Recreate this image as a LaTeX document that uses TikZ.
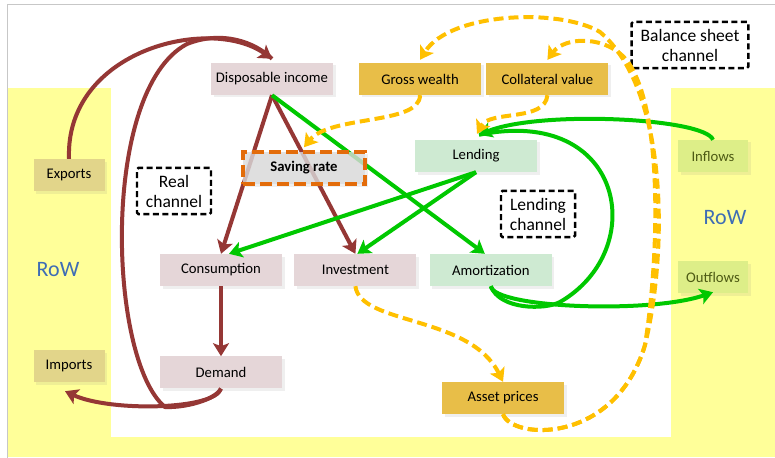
\documentclass[tikz,border=0pt]{standalone}
\usepackage{fontspec}
\setmainfont{Carlito}
\usetikzlibrary{arrows.meta,positioning,shadows}
\definecolor{ecoreal}{HTML}{953735}
\definecolor{ecolend}{HTML}{00C800}
\definecolor{ecobs}{HTML}{FFC000}
\definecolor{ecosave}{HTML}{E36C0A}
\definecolor{ecopink}{HTML}{E5D6D8}
\definecolor{ecogold}{HTML}{E8BE48}
\definecolor{ecomint}{HTML}{CEEAD2}
\definecolor{ecokhaki}{HTML}{E2D58A}
\definecolor{ecolime}{HTML}{DDEE88}
\definecolor{ecoolive}{HTML}{4D5A14}
\definecolor{ecoyellow}{HTML}{FFFF99}
\definecolor{ecoblue}{HTML}{3E6DB5}
\pgfdeclarelayer{front}
\pgfsetlayers{main,front}
\tikzset{
  nbox/.style={minimum width=122pt,minimum height=32pt,inner sep=2pt,
               font=\fontsize{14.7}{17}\selectfont,
               drop shadow={shadow xshift=2.5pt,shadow yshift=-2.5pt,opacity=0.12}},
  incbox/.style={nbox,fill=ecopink},
  wealthbox/.style={nbox,fill=ecogold},
  lendbox/.style={nbox,fill=ecomint},
  tradebox/.style={nbox,minimum width=71pt,fill=ecokhaki},
  flowbox/.style={nbox,minimum width=70pt,fill=ecolime,text=ecoolive},
  savebox/.style={nbox,fill=black!14,fill opacity=0.8,text opacity=1,draw=ecosave,draw opacity=1,
                  line width=3.5pt,dash pattern=on 12pt off 5pt,
                  font=\fontsize{14.7}{17}\selectfont\bfseries},
  chanbox/.style={draw,line width=2.4pt,dash pattern=on 6pt off 3.5pt,rounded corners=1.5pt,
                  fill=white,align=center,inner xsep=9pt,inner ysep=7pt,
                  font=\fontsize{17.5}{20}\selectfont},
  rowlabel/.style={text=ecoblue,font=\fontsize{22}{24}\selectfont},
  realarr/.style={-{Stealth[length=13pt,width=16pt,inset=3pt]},draw=ecoreal,line width=4pt},
  lendarr/.style={-{Stealth[length=13pt,width=16pt,inset=3pt]},draw=ecolend,line width=4pt},
  bsarr/.style={-{Stealth[length=13pt,width=16pt,inset=3pt]},draw=ecobs,line width=4pt,
                dash pattern=on 10pt off 5pt},
}
\begin{document}
\begin{tikzpicture}[x=1pt,y=-1pt]
\useasboundingbox (0,0) rectangle (775,457);
% --- background: rest of world strips ---
\fill[white] (0,0) rectangle (775,457);
\fill[ecoyellow] (7,88) rectangle (775,457);
\fill[white] (111,88) rectangle (671,437);
\draw[black!22,line width=1pt] (7,462) -- (7,5) -- (780,5);
% --- top row ---
\node[incbox] (dispinc) at (272,79) {Disposable income};
\node[wealthbox] (grosswealth) at (420,79) {Gross wealth};
\node[wealthbox,right=5pt of grosswealth] (collateral) {Collateral value};
\begin{pgfonlayer}{front}
\node[savebox] (saving) at (304,168) {Saving rate};
\end{pgfonlayer}
\node[lendbox] (lending) at (476,156) {Lending};
% --- middle row ---
\node[incbox] (consumption) at (221,270) {Consumption};
\node[incbox,right=12pt of consumption] (investment) {Investment};
\node[lendbox,right=13pt of investment] (amort) {Amortization};
\node[incbox,below=70pt of consumption] (demand) {Demand};
\node[wealthbox] (assetprices) at (503,398) {Asset prices};
% --- rest of world ---
\node[tradebox] (exports) at (69,175) {Exports};
\node[tradebox] (imports) at (69,366) {Imports};
\node[flowbox] (inflows) at (713,156) {Inflows};
\node[flowbox] (outflows) at (713,277) {Outflows};
\node[rowlabel] (rowleft) at (58,270) {RoW};
\node[rowlabel] (rowright) at (725,218) {RoW};
% --- channel labels ---
\node[chanbox] (realch) at (174,191) {Real\\channel};
\node[chanbox] (lendch) at (538,214) {Lending\\channel};
\node[chanbox] (balch) at (690,45) {Balance sheet\\channel};
% real channel
\draw[realarr] (exports.north) .. controls (65,50) and (210,15) .. ([yshift=4pt]dispinc.north);
\draw[draw=ecoreal,line width=4pt] (demand.south) .. controls (215,400) and (185,408) .. (165,407)
  .. controls (108,360) and (100,90) .. (187,44) .. controls (222,30) and (255,42) .. ([yshift=4pt]dispinc.north);
\draw[realarr] (demand.south) .. controls (215,410) and (110,412) .. ([xshift=-4pt,yshift=-9pt]imports.south);
\draw[realarr] (dispinc.south) -- (consumption.north);
\draw[realarr] (dispinc.south) -- (investment.north);
\draw[realarr] (consumption.south) -- (demand.north);
% lending channel
\draw[lendarr] (dispinc.south) -- ([xshift=-6pt]amort.north);
\draw[lendarr] (lending.south) -- ([xshift=8pt]consumption.north);
\draw[lendarr] (lending.south) -- ([xshift=2pt]investment.north);
\draw[lendarr] (inflows.north) .. controls (705,118) and (540,110) .. ([xshift=3pt,yshift=5pt]lending.north);
\draw[lendarr] (amort.south) .. controls (494,308) and (650,314) .. ([yshift=1pt]outflows.south);
\draw[draw=ecolend,line width=4pt] (amort.south) .. controls (500,310) and (545,310) .. (560,302)
  .. controls (650,250) and (625,105) .. ([xshift=3pt,yshift=5pt]lending.north);
% balance sheet channel
\draw[bsarr] (grosswealth.south) .. controls (420,125) and (330,115) .. ([yshift=3pt]saving.north);
\draw[bsarr] (collateral.south) .. controls (545,122) and (490,110) .. ([xshift=1pt,yshift=6pt]lending.north);
\draw[bsarr] (investment.south) .. controls (360,325) and (470,315) .. (assetprices.north);
\draw[bsarr] (assetprices.south) .. controls (512,440) and (615,445) .. (645,345)
  .. controls (668,250) and (668,90) .. (600,32) .. controls (560,8) and (450,12) .. ([yshift=3pt]grosswealth.north);
\draw[bsarr] (assetprices.south) .. controls (512,440) and (615,445) .. (645,345)
  .. controls (660,250) and (662,110) .. (628,62) .. controls (608,35) and (565,36) .. ([yshift=3pt]collateral.north);
\end{tikzpicture}
\end{document}
